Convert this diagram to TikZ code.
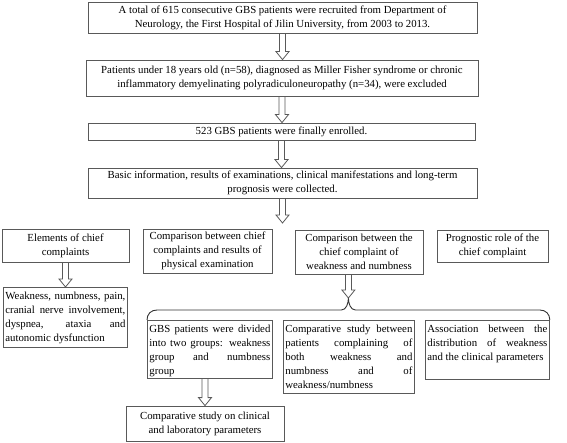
\documentclass[tikz,border=0pt]{standalone}
\usepackage{fontspec}
\setmainfont{Liberation Serif}
\usepackage{tikz}
\usetikzlibrary{positioning,calc}

\newcommand{\blockarrow}[2]{%
  \draw[arrowbody] let \p1=(#1), \p2=(#2) in
    (\x1-3pt,\y1) -- (\x1-3pt,\y2+8pt) -- (\x1-6.5pt,\y2+8pt) -- (\x1,\y2)
    -- (\x1+6.5pt,\y2+8pt) -- (\x1+3pt,\y2+8pt) -- (\x1+3pt,\y1);}

\begin{document}
\begin{tikzpicture}[x=1pt, y=-1pt,
    box/.style={draw=black!65, line width=0.8pt, rectangle, align=center, inner sep=2pt, font=\fontsize{10.8}{14}\selectfont},
    jbox/.style={box, align=justify, anchor=north west, inner xsep=2pt, inner ysep=3pt, text height=9pt},
    arrowbody/.style={draw=black!65, line width=0.8pt},
    bracket/.style={draw=black!80, line width=0.9pt}
]
    \useasboundingbox (0,0) rectangle (567,443);

    % Main column
    \node [box, minimum width=389pt, minimum height=31pt] (recruit) at (282.5,17.5)
        {A total of 615 consecutive GBS patients were recruited from Department of\\Neurology, the First Hospital of Jilin University, from 2003 to 2013.};
    \node [box, minimum width=392pt, minimum height=36pt] (exclude) at (282,78)
        {Patients under 18 years old (n=58), diagnosed as Miller Fisher syndrome or chronic\\inflammatory demyelinating polyradiculoneuropathy (n=34), were excluded};
    \node [box, minimum width=387pt, minimum height=17pt] (enrol) at (281.5,131.5)
        {523 GBS patients were finally enrolled.};
    \node [box, minimum width=389pt, minimum height=30pt] (collect) at (282.5,183)
        {Basic information, results of examinations, clinical manifestations and long-term\\prognosis were collected.};

    \blockarrow{recruit.south}{exclude.north}
    \blockarrow{exclude.south}{enrol.north}
    \blockarrow{enrol.south}{collect.north}
    \blockarrow{collect.south}{282.5,223}

    % Four branches
    \node [box, minimum width=127pt, minimum height=33pt] (elements) at (65.5,245.5)
        {Elements of chief\\complaints};
    \node [box, minimum width=129pt, minimum height=44pt] (physexam) at (207.5,251)
        {Comparison between chief\\complaints and results of\\physical examination};
    \node [box, minimum width=128pt, minimum height=44pt] (compare) at (359,252)
        {Comparison between the\\chief complaint of\\weakness and numbness};
    \node [box, minimum width=111pt, minimum height=32pt] (prognosis) at (492.5,246)
        {Prognostic role of the\\chief complaint};

    \node [jbox, text width=120pt, text depth=45pt] (symptoms) at (3,287)
        {Weakness, numbness, pain,\linebreak cranial nerve involvement,\linebreak dyspnea, ataxia and\linebreak autonomic dysfunction};
    \blockarrow{elements.south}{symptoms.north}

    % Weakness vs numbness
    \node [jbox, text width=121pt, text depth=43pt] (groups) at (147,320)
        {GBS patients were divided\linebreak into two groups: weakness\linebreak group and numbness\linebreak group};
    \node [jbox, text width=127pt, text depth=58pt] (bothstudy) at (283,320)
        {Comparative study between\linebreak patients complaining of\linebreak both weakness and\linebreak numbness and of\linebreak weakness/numbness};
    \node [jbox, text width=120pt, text depth=44pt] (distrib) at (425,320)
        {Association between the\linebreak distribution of weakness\linebreak and the clinical parameters};

    % Brace over the three studies
    \coordinate (bl) at (groups.north west);
    \coordinate (br) at (distrib.north east);
    \coordinate (tip) at ($(bl)!0.5!(br) + (0,-22)$);
    \draw [bracket] (bl) .. controls ($(bl)+(0,-6)$) and ($(bl)+(4,-10)$) .. ($(bl)+(10,-10)$)
        -- ($(tip)+(-7,12)$) .. controls ($(tip)+(-2,12)$) and ($(tip)+(0,5)$) .. (tip)
        .. controls ($(tip)+(0,5)$) and ($(tip)+(2,12)$) .. ($(tip)+(7,12)$)
        -- ($(br)+(-10,-10)$) .. controls ($(br)+(-4,-10)$) and ($(br)+(0,-6)$) .. (br);
    \blockarrow{compare.south -| tip}{tip}

    \node [box, minimum width=158pt, minimum height=35pt] (labstudy) at (205,423.5)
        {Comparative study on clinical\\and laboratory parameters};
    \blockarrow{groups.south -| labstudy.north}{labstudy.north}

\end{tikzpicture}
\end{document}
